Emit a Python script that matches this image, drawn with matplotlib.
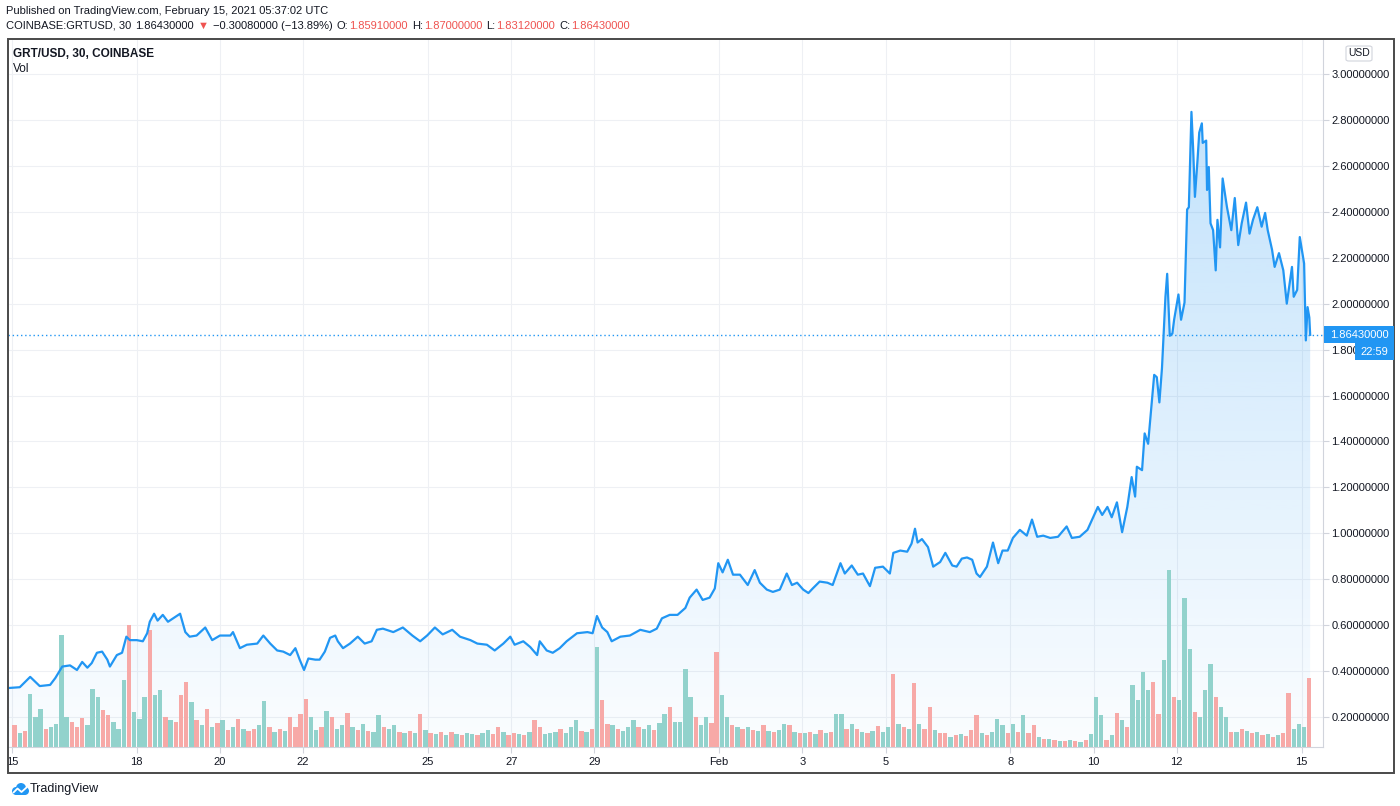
import numpy as np
import pandas as pd
import matplotlib
matplotlib.use("Agg")
import matplotlib.pyplot as plt
from matplotlib import patches, transforms
from matplotlib.colors import LinearSegmentedColormap

plt.rcParams['font.family'] = ['Liberation Sans', 'DejaVu Sans']

W, H = 1400, 806
START = pd.Timestamp("2021-01-15 00:00")

# GRT/USD close (hours after Jan 15 00:00 UTC)
hours = [-3, 4.5, 10.5, 16, 22, 25, 29, 33.5, 37.5, 40.5, 43.5, 46, 49, 52, 55, 56.5,
         60.5, 63.5, 66, 68, 72, 75.5, 78, 79.5, 82, 84, 87, 90, 93, 97, 100, 102.5,
         106.5, 111.5, 115.5, 120, 126, 127.5, 131.5, 135.5, 141.5, 145, 149, 153, 156.5,
         160.5, 163.5, 166, 168.5, 171, 175, 177.5, 180.5, 183.5, 186.5, 188, 191, 195,
         199.5, 203.5, 207.5, 210.5, 214, 220, 225.5, 231, 235.5, 239.5, 244, 248.5, 254,
         258.5, 264.5, 268.5, 274, 278.5, 283.5, 287.5, 290, 295, 299, 303, 304.5, 308.5,
         312, 316, 320, 326, 332, 335, 337.5, 340.5, 343.5, 346, 351, 356.5, 362.5, 368,
         372, 375, 379.5, 384, 388.5, 391, 395, 398.5, 402.5, 405.5, 407.5, 410, 413, 416,
         420, 424.5, 428.5, 431.5, 435.5, 439, 443, 447, 450, 453, 456.5, 459.5, 462, 466,
         470.5, 473.5, 478, 480.5, 484.5, 488, 491, 495, 498, 502.5, 506.5, 508.5, 512.5,
         516.5, 519, 521, 522.5, 525, 528.5, 531.5, 535.5, 538.5, 542.5, 545, 548, 551,
         554, 556.5, 558.5, 562.5, 566, 569, 571.5, 574.5, 577.5, 581.5, 585.5, 588.5,
         591.5, 595, 599, 603.5, 608.5, 611.5, 616, 620.5, 625, 626.5, 629, 632, 634.5,
         637.5, 640.5, 643.5, 646, 648, 649, 652, 653.5, 655.5, 657.5, 659, 660.5, 662,
         663.5, 664, 665.5, 666.5, 668, 669.5, 670.5, 673, 674.5, 676.5, 678, 679, 680.5,
         681.5, 682.5, 684, 685, 686.5, 687, 689, 689.5, 690.5, 691.5, 693, 694.5, 695.5,
         697, 698.5, 701, 703.5, 705.5, 707.5, 709.5, 712, 714, 716, 718.5, 721, 723,
         724.5, 727, 728.5, 731, 733.5, 735.5, 738.5, 739.5, 741.5, 743, 745, 745.5, 746.5,
         747.5, 748.5, 749]
price = [0.326, 0.33, 0.375, 0.335, 0.34, 0.37, 0.42, 0.425, 0.405, 0.44, 0.415, 0.435, 0.48,
         0.485, 0.45, 0.42, 0.47, 0.48, 0.55, 0.535, 0.535, 0.53, 0.565, 0.615, 0.65, 0.62,
         0.645, 0.615, 0.63, 0.65, 0.57, 0.55, 0.555, 0.59, 0.535, 0.555, 0.555, 0.57, 0.50,
         0.515, 0.52, 0.555, 0.52, 0.49, 0.485, 0.47, 0.50, 0.45, 0.405, 0.455, 0.45, 0.45,
         0.485, 0.545, 0.555, 0.53, 0.50, 0.52, 0.55, 0.52, 0.53, 0.58, 0.585, 0.57, 0.59,
         0.555, 0.53, 0.555, 0.59, 0.56, 0.58, 0.55, 0.535, 0.52, 0.515, 0.49, 0.52, 0.55,
         0.515, 0.53, 0.505, 0.47, 0.53, 0.49, 0.48, 0.50, 0.53, 0.565, 0.57, 0.565, 0.64,
         0.59, 0.57, 0.53, 0.55, 0.555, 0.58, 0.57, 0.585, 0.63, 0.645, 0.645, 0.675, 0.72,
         0.755, 0.71, 0.72, 0.76, 0.87, 0.83, 0.885, 0.82, 0.82, 0.775, 0.84, 0.785, 0.755,
         0.745, 0.755, 0.825, 0.775, 0.785, 0.755, 0.74, 0.76, 0.79, 0.785, 0.775, 0.87,
         0.825, 0.86, 0.82, 0.825, 0.77, 0.85, 0.855, 0.825, 0.915, 0.925, 0.92, 0.955, 1.02,
         0.96, 0.975, 0.94, 0.855, 0.875, 0.915, 0.86, 0.855, 0.89, 0.895, 0.885, 0.825,
         0.81, 0.855, 0.96, 0.87, 0.925, 0.925, 0.98, 1.015, 0.99, 1.06, 0.985, 0.99, 0.98,
         0.985, 1.03, 0.98, 0.985, 1.015, 1.09, 1.115, 1.08, 1.115, 1.07, 1.135, 1.005, 1.115,
         1.245, 1.16, 1.29, 1.275, 1.435, 1.39, 1.56, 1.69, 1.68, 1.57, 1.72, 1.80, 2.03,
         2.13, 1.86, 1.87, 1.93, 2.04, 1.93, 2.005, 2.41, 2.42, 2.835, 2.67, 2.465, 2.625,
         2.745, 2.785, 2.70, 2.71, 2.495, 2.595, 2.35, 2.32, 2.145, 2.365, 2.245, 2.545, 2.42,
         2.32, 2.46, 2.255, 2.35, 2.44, 2.305, 2.365, 2.42, 2.335, 2.395, 2.32, 2.235, 2.16,
         2.22, 2.145, 2.00, 2.16, 2.03, 2.06, 2.29, 2.20, 2.175, 1.84, 1.985, 1.94, 1.8643]

# volume in 3-hour buckets, one row per day from Jan 15 (units of 10k GRT)
vol_days = [
    [22, 14, 16, 53, 30, 38, 18, 20],
    [23, 112, 30, 25, 20, 29, 22, 58],
    [50, 37, 32, 25, 18, 67, 122, 35],
    [28, 50, 117, 52, 57, 30, 27, 25],
    [52, 65, 45, 27, 22, 38, 20, 24],
    [27, 17, 20, 28, 18, 16, 18, 22],
    [46, 20, 15, 18, 16, 30, 20, 33],
    [48, 30, 17, 20, 36, 30, 18, 22],
    [34, 20, 17, 23, 16, 15, 32, 20],
    [18, 22, 15, 14, 16, 14, 33, 17],
    [14, 13, 15, 12, 15, 13, 12, 14],
    [13, 12, 14, 17, 13, 20, 15, 12],
    [14, 13, 12, 15, 27, 20, 13, 14],
    [15, 18, 14, 20, 27, 16, 15, 18],
    [100, 47, 23, 22, 18, 16, 20, 27],
    [20, 18, 22, 17, 24, 33, 40, 25],
    [25, 78, 50, 30, 22, 30, 24, 95],
    [52, 30, 22, 20, 18, 20, 17, 16],
    [22, 16, 15, 17, 23, 22, 15, 14],
    [14, 15, 13, 17, 14, 15, 33, 33],
    [18, 23, 18, 15, 14, 16, 21, 15],
    [20, 73, 23, 20, 18, 64, 23, 18],
    [40, 17, 14, 14, 10, 12, 13, 11],
    [17, 32, 14, 12, 15, 28, 22, 14],
    [23, 15, 32, 14, 22, 10, 8, 8],
    [7, 6, 6, 7, 6, 5, 7, 13],
    [50, 32, 7, 12, 34, 27, 20, 62],
    [47, 75, 57, 65, 33, 87, 177, 50],
    [47, 149, 98, 35, 30, 57, 83, 50],
    [40, 30, 15, 15, 18, 16, 14, 15],
    [12, 13, 10, 12, 14, 54, 18, 23],
    [20, 69],
]
# g = up bucket, r = down bucket
vol_dirs = ["rgrgggrg", "gggrrrgg", "grrgggrg", "ggrggrgr", "rrgrgrgr", "grgrgrrg",
            "grgrgrrr", "rggrgrgg", "rgrgrggr", "ggrgrgrg", "rgrgrgrg", "grggrrgr",
            "rgrgrrgg", "grgggrgr", "grrgrggg", "rggrggrg", "gggrggrr", "ggrgrgrg",
            "rgrggrgr", "grgrgrgg", "rgrgrgrg", "grgrgrgr", "rgrrgrgr", "rrgrgggr",
            "grgrrgrg", "rgrgrgrg", "ggrgrgrg", "gggrrggr", "gggrgggr", "ggrgrgrg",
            "rgrgrrgg", "gr"]

tick_dates = ["2021-01-15", "2021-01-18", "2021-01-20", "2021-01-22", "2021-01-25",
              "2021-01-27", "2021-01-29", "2021-02-01", "2021-02-03", "2021-02-05",
              "2021-02-08", "2021-02-10", "2021-02-12", "2021-02-15"]
tick_labels = ["15", "18", "20", "22", "25", "27", "29", "Feb", "3", "5", "8", "10", "12", "15"]
price_ticks = [0.2, 0.4, 0.6, 0.8, 1.0, 1.2, 1.4, 1.6, 1.8, 2.0, 2.2, 2.4, 2.6, 2.8, 3.0]
last_price = 1.8643

BLUE = '#2196f3'
TEXT = '#131722'
RED = '#ef5350'
UP_VOL = '#92d2cc'
DN_VOL = '#f7a9a7'
SEP = '#d1d4dc'


def fx(px):
    return px / W


def fy(py):
    return 1 - py / H


fig = plt.figure(figsize=(W / 100, H / 100), dpi=100)
fig.patch.set_facecolor('white')
ax = fig.add_axes([fx(8), fy(747), (1323 - 8) / W, (747 - 40) / H])

xmin, xmax = -2.3, 756.4
ymin, ymax = 0.0697, 3.148

# gradient area under the line
grad = np.linspace(0, 1, 256).reshape(-1, 1)
cmap = LinearSegmentedColormap.from_list(
    'area', [(33 / 255, 150 / 255, 243 / 255, 0.02), (33 / 255, 150 / 255, 243 / 255, 0.30)])
im = ax.imshow(grad, extent=[xmin, xmax, ymin, ymax], origin='lower', aspect='auto',
               cmap=cmap, zorder=1, interpolation='bilinear')
area = ax.fill_between(hours, price, ymin, facecolor='none', edgecolor='none')
im.set_clip_path(area.get_paths()[0], transform=ax.transData)

# volume pane: tallest bucket reaches a quarter of the pane height
vol = np.concatenate([np.array(d, dtype=float) for d in vol_days])
dirs = ''.join(vol_dirs)
vol_x = np.concatenate([day * 24 + 3 * np.arange(len(d)) + 1.5 for day, d in enumerate(vol_days)])
vol_top = vol.max() / 0.25
vtrans = transforms.blended_transform_factory(ax.transData, ax.transAxes)
ax.bar(vol_x, vol / vol_top, width=2.5, bottom=0,
       color=[UP_VOL if c == 'g' else DN_VOL for c in dirs],
       linewidth=0, transform=vtrans, zorder=2)

ax.axhline(last_price, color=BLUE, lw=1, ls=(0, (1, 2)), zorder=2.5)
ax.plot(hours, price, color=BLUE, lw=1.6, zorder=3, solid_joinstyle='round')

ax.set_xlim(xmin, xmax)
ax.set_ylim(ymin, ymax)

tick_hours = [(pd.Timestamp(d) - START) / pd.Timedelta(hours=1) for d in tick_dates]
ax.set_xticks(tick_hours)
ax.set_xticklabels(tick_labels)
ax.yaxis.tick_right()
ax.set_yticks(price_ticks)
ax.set_yticklabels([f"{v:.8f}" for v in price_ticks])
ax.tick_params(axis='both', length=4, width=0.8, color=SEP, labelsize=8, labelcolor=TEXT)
ax.tick_params(axis='y', pad=2)
ax.tick_params(axis='x', pad=3)
ax.grid(True, color='#eef0f4', lw=0.8, zorder=0)
ax.set_axisbelow(True)
for s in ['top', 'left']:
    ax.spines[s].set_visible(False)
for s in ['right', 'bottom']:
    ax.spines[s].set_color(SEP)
    ax.spines[s].set_linewidth(0.8)

# outer frame
fig.add_artist(patches.Rectangle((fx(8), fy(773)), (1394 - 8) / W, (773 - 39) / H,
                                 transform=fig.transFigure, fill=False,
                                 edgecolor='#4a4a4a', lw=1.4, zorder=5))

# header
fig.text(fx(6), fy(11), "Published on TradingView.com, February 15, 2021 05:37:02 UTC",
         fontsize=8, color=TEXT, va='center')
header = [(6, "COINBASE:GRTUSD, 30", TEXT), (131, "1.86430000", TEXT), (190, "\u25bc", RED),
          (200, "\u22120.30080000 (\u221213.89%)", TEXT), (328, "O:", TEXT),
          (340, "1.85910000", RED), (404, "H:", TEXT), (416, "1.87000000", RED),
          (480, "L:", TEXT), (491, "1.83120000", RED), (554, "C:", TEXT),
          (566, "1.86430000", RED)]
fig.canvas.draw()
renderer = fig.canvas.get_renderer()
prev_end = 0
prev_label = ""
for x, s, c in header:
    gap = 1 if prev_label.endswith(":") else 4
    x0 = max(x, prev_end + gap)
    t = fig.text(fx(x0), fy(26), s, fontsize=8, color=c, va='center')
    prev_end = t.get_window_extent(renderer).x1
    prev_label = s

fig.text(fx(13), fy(54), "GRT/USD, 30, COINBASE", fontsize=8.5, color=TEXT,
         va='center', fontweight='bold')
fig.text(fx(13), fy(69), "Vol", fontsize=8.5, color=TEXT, va='center')

# currency badge
fig.add_artist(patches.FancyBboxPatch((fx(1346), fy(61)), 26 / W, 15 / H,
                                      boxstyle='round,pad=0,rounding_size=0.002',
                                      transform=fig.transFigure, facecolor='white',
                                      edgecolor=SEP, lw=0.8, zorder=5))
fig.text(fx(1359), fy(53.5), "USD", fontsize=7.5, color=TEXT, ha='center', va='center', zorder=6)

# last price badge + countdown
y_last = fig.transFigure.inverted().transform(ax.transData.transform((0, last_price)))[1]
fig.add_artist(patches.Rectangle((fx(1324), y_last - 8.5 / H), 70 / W, 17 / H,
                                 transform=fig.transFigure, facecolor=BLUE,
                                 edgecolor='none', zorder=5))
fig.text(fx(1359), y_last, "1.86430000", fontsize=8, color='white', ha='center',
         va='center', zorder=6)
fig.add_artist(patches.Rectangle((fx(1355), y_last - 25.5 / H), 39 / W, 17 / H,
                                 transform=fig.transFigure, facecolor=BLUE,
                                 edgecolor='none', zorder=5))
fig.text(fx(1374.5), y_last - 17 / H, "22:59", fontsize=8, color='white', ha='center',
         va='center', zorder=6)

# TradingView logo
logo = fig.add_axes([fx(11), fy(796), 18 / W, 14 / H])
logo.set_xlim(0, 18)
logo.set_ylim(0, 14)
logo.axis('off')
for cx, cy, r in [(5, 5, 4), (10, 8, 5), (14, 5, 4)]:
    logo.add_patch(patches.Circle((cx, cy), r, color=BLUE, lw=0))
logo.add_patch(patches.Rectangle((5, 1), 9, 5, color=BLUE, lw=0))
logo.plot([2.5, 6.5, 10.5, 15.5], [3.5, 7.5, 4, 8.5], color='white', lw=1.3,
          solid_capstyle='round')
fig.text(fx(30), fy(789), "TradingView", fontsize=9, color=TEXT, va='center')

fig.savefig("out.png", dpi=100, facecolor='white')
